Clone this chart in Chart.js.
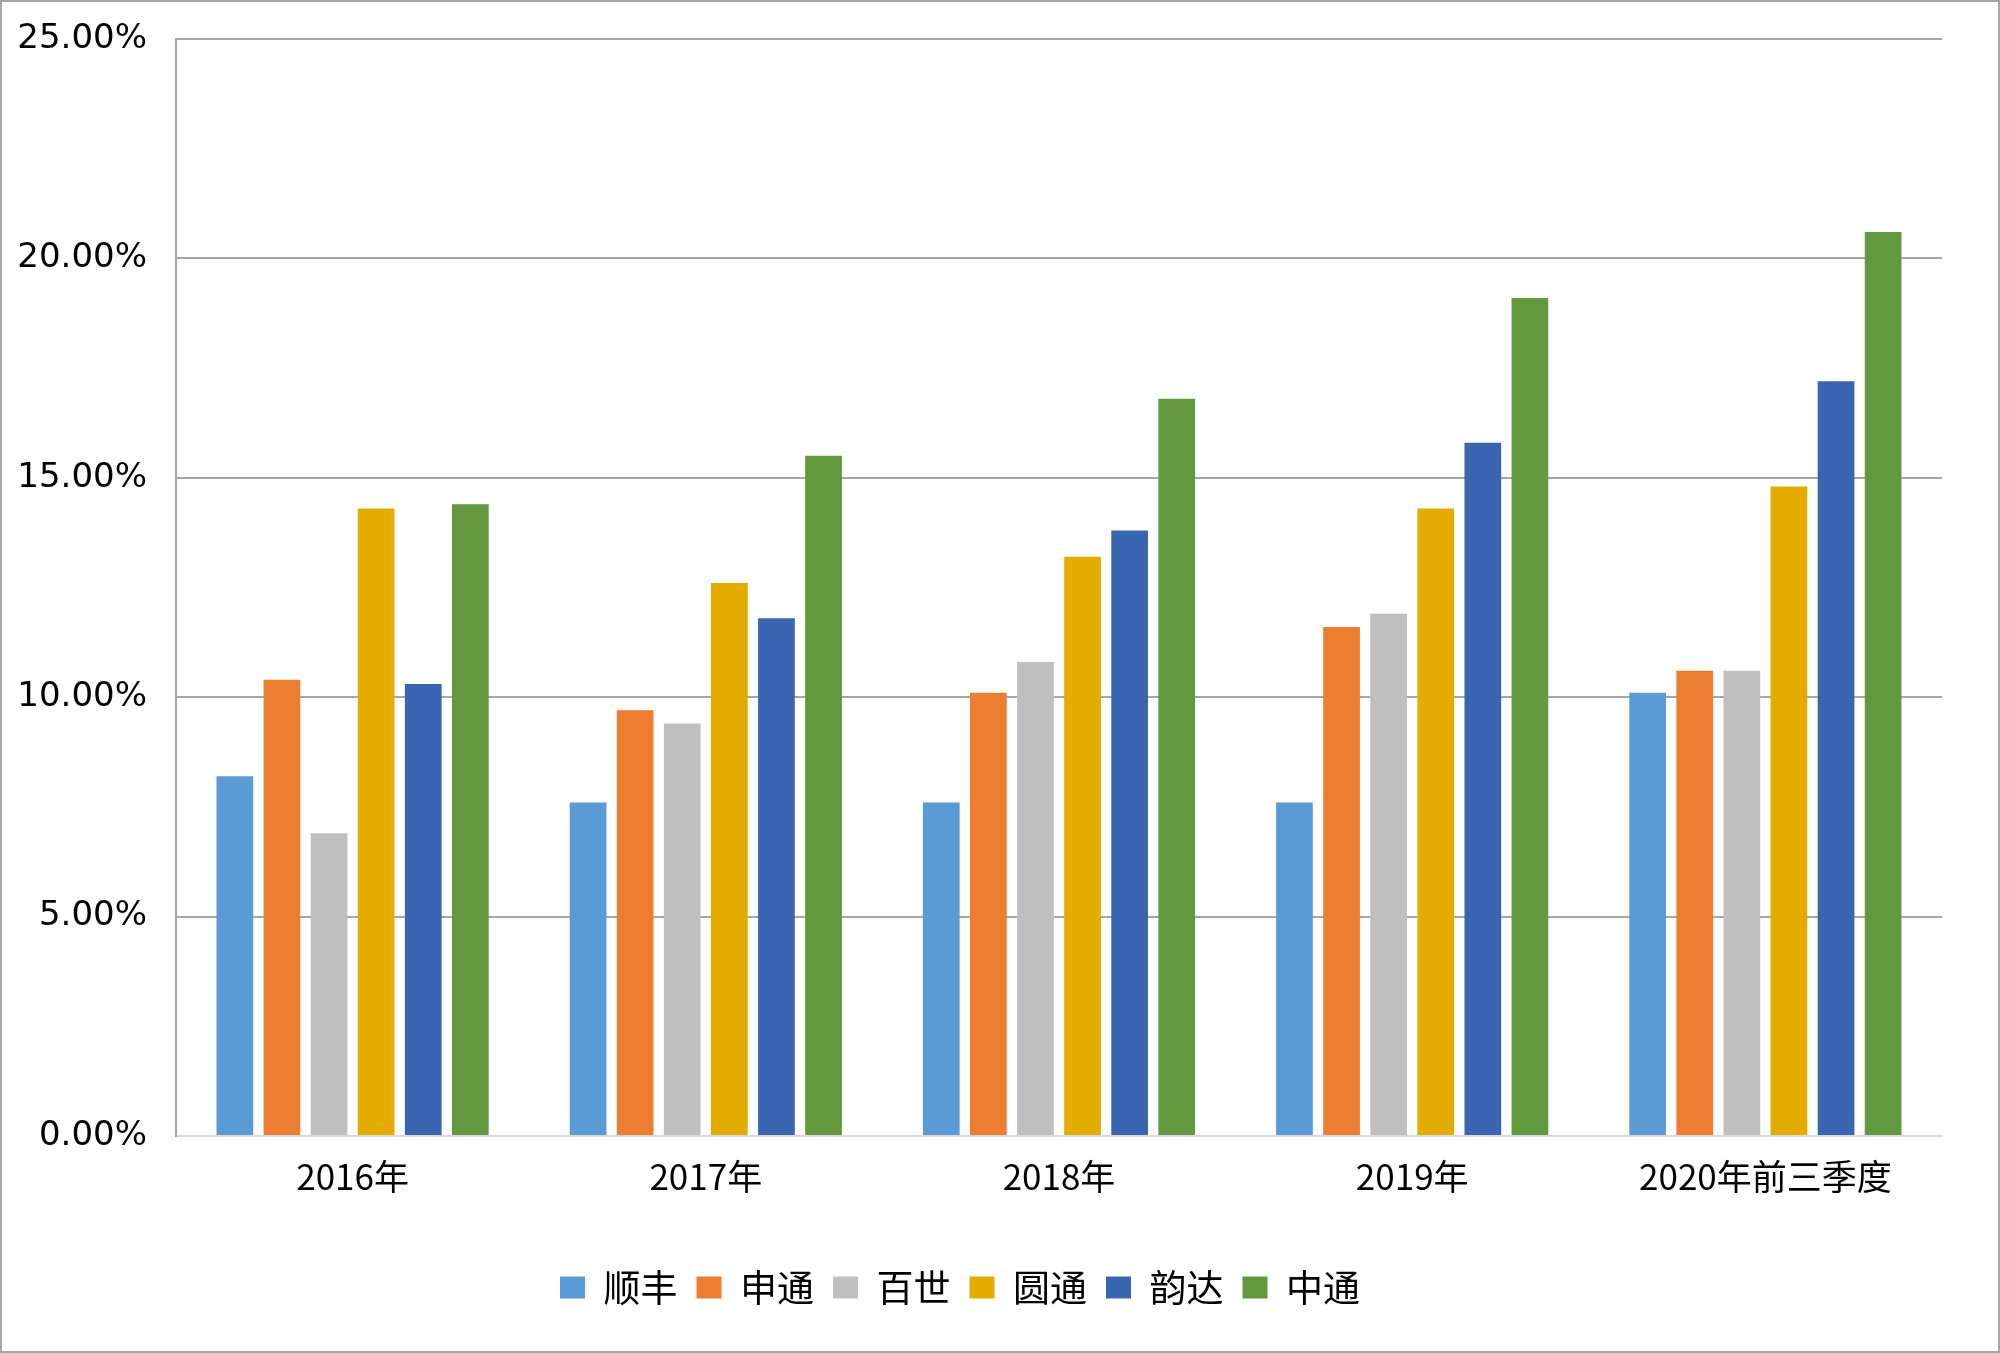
<!DOCTYPE html>
<html>
<head>
<meta charset="utf-8">
<script src="https://cdn.jsdelivr.net/npm/chart.js@4/dist/chart.umd.min.js"></script>
<style>
  html, body { margin: 0; padding: 0; background: #ffffff; }
  #wrap { position: relative; width: 2000px; height: 1353px; }
  canvas { display: block; }
</style>
</head>
<body>
<div id="wrap"><canvas id="c" width="2000" height="1353"></canvas></div>
<script>
const categories = ["2016年", "2017年", "2018年", "2019年", "2020年前三季度"];
const seriesNames = ["顺丰", "申通", "百世", "圆通", "韵达", "中通"];
const shunfeng = [8.2, 7.6, 7.6, 7.6, 10.1];
const shentong = [10.4, 9.7, 10.1, 11.6, 10.6];
const baishi   = [6.9, 9.4, 10.8, 11.9, 10.6];
const yuantong = [14.3, 12.6, 13.2, 14.3, 14.8];
const yunda    = [10.3, 11.8, 13.8, 15.8, 17.2];
const zhongtong = [14.4, 15.5, 16.8, 19.1, 20.6];
const yTickValues = [0, 5, 10, 15, 20, 25];
const colors = ["#5B9BD5", "#ED7D31", "#BFBFBF", "#E5AC00", "#3A65B0", "#62993E"];

const allValues = [shunfeng, shentong, baishi, yuantong, yunda, zhongtong];

const frame = {
  id: 'frame',
  afterLayout(chart) {
    if (chart.legend) {
      chart.legend.left -= 11;
      chart.legend.right -= 11;
    }
  },
  afterDraw(chart) {
    const ctx = chart.ctx;
    ctx.save();
    ctx.strokeStyle = '#A6A6A6';
    ctx.lineWidth = 2;
    ctx.strokeRect(1, 1, chart.width - 2, chart.height - 2);
    ctx.restore();
  }
};

new Chart(document.getElementById('c'), {
  type: 'bar',
  data: {
    labels: categories,
    datasets: seriesNames.map((n, i) => ({
      label: n,
      data: allValues[i],
      backgroundColor: colors[i],
      borderWidth: 0,
      categoryPercentage: 0.8,
      barPercentage: 0.78
    }))
  },
  options: {
    responsive: false,
    animation: false,
    devicePixelRatio: 1,
    layout: { padding: { left: 0, right: 58, top: 39, bottom: 37 } },
    plugins: {
      tooltip: { enabled: false },
      legend: {
        position: 'bottom',
        labels: {
          boxWidth: 25,
          boxHeight: 22,
          padding: 19,
          color: '#000000',
          font: { family: '"Noto Sans CJK SC"', size: 37 }
        }
      }
    },
    scales: {
      x: {
        grid: { display: false, drawTicks: false },
        border: { display: true, color: '#D9D9D9', width: 2 },
        ticks: {
          color: '#000000',
          padding: 20,
          maxRotation: 0,
          font: { family: '"Noto Sans CJK SC"', size: 35 }
        },
        afterFit(scale) { scale.height = 114; }
      },
      y: {
        min: 0,
        max: 25,
        afterBuildTicks(scale) { scale.ticks = yTickValues.map(v => ({ value: v })); },
        grid: {
          drawTicks: false,
          lineWidth: 2,
          color: ctx => (ctx.tick && ctx.tick.value === 0) ? '#D9D9D9' : '#A6A6A6'
        },
        border: { display: true, color: '#A6A6A6', width: 2 },
        ticks: {
          color: '#000000',
          padding: 29,
          font: { family: '"DejaVu Sans"', size: 34 },
          callback: v => Number(v).toFixed(2) + '%'
        },
        afterFit(scale) { scale.width = 176; scale.paddingTop = 0; }
      }
    }
  },
  plugins: [frame]
});
</script>
</body>
</html>
